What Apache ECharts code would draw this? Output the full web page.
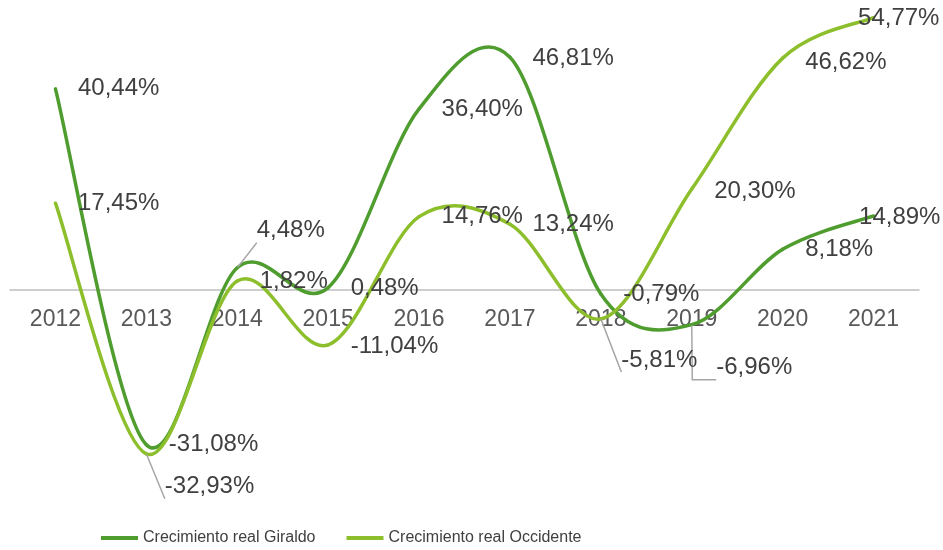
<!DOCTYPE html>
<html>
<head>
<meta charset="utf-8">
<script src="https://cdn.jsdelivr.net/npm/echarts@6/dist/echarts.min.js"></script>
<style>
  html, body { margin: 0; padding: 0; background: #fff; }
  #chart { width: 943px; height: 550px; }
</style>
</head>
<body>
<div id="chart"></div>
<script>
// datos
var years = ['2012', '2013', '2014', '2015', '2016', '2017', '2018', '2019', '2020', '2021'];
var giraldo = [40.44, -31.08, 4.48, 0.48, 36.40, 46.81, -0.79, -6.96, 8.18, 14.89];
var occidente = [17.45, -32.93, 1.82, -11.04, 14.76, 13.24, -5.81, 20.30, 46.62, 54.77];

// desplazamiento de etiquetas (px) y cuales llevan linea guia
var giraldoOffsets = [[0, 0], [0, 0], [-3, -37], [0, 1], [0, 0], [0, 1], [0, 0], [2, 43], [0, 0], [-37, 1]];
var giraldoLeaders = [2, 7];
var occidenteOffsets = [[0, 0], [-4, 33], [0, 0], [0, 1], [0, 0], [0, 0], [-2, 41], [0, 2], [0, 4], [-38, 1]];
var occidenteLeaders = [1, 6];

var GRID_H = 490;
var Y_MIN = -40.2, Y_MAX = 58.3;

var chart = echarts.init(document.getElementById('chart'));

function fmt(v) {
    return v.toFixed(2).replace('.', ',') + '%';
}

function buildData(values, offsets, leaders, elbow) {
    return values.map(function (v, i) {
        var item = {
            value: v,
            label: { offset: offsets[i] }
        };
        if (leaders.indexOf(i) >= 0) {
            item.labelLine = {
                show: true,
                length2: i === elbow ? 24 : 0,
                lineStyle: { color: '#a6a6a6', width: 1.5 }
            };
        }
        return item;
    });
}

// curva suavizada tipo Excel (Catmull-Rom, tension 1/6)
function curveSeries(name, color, values) {
    var n = values.length;
    return {
        name: name,
        type: 'custom',
        data: values.map(function (v, i) { return [i, v]; }),
        encode: { x: 0, y: 1 },
        silent: true,
        z: 2,
        itemStyle: { color: color },
        renderItem: function (params, api) {
            var i = params.dataIndex;
            if (i >= n - 1) return null;
            function pt(k) {
                k = Math.max(0, Math.min(n - 1, k));
                return api.coord([api.value(0, k), api.value(1, k)]);
            }
            var p0 = pt(i - 1), p1 = pt(i), p2 = pt(i + 1), p3 = pt(i + 2);
            return {
                type: 'bezierCurve',
                shape: {
                    x1: p1[0], y1: p1[1],
                    cpx1: p1[0] + (p2[0] - p0[0]) / 6,
                    cpy1: p1[1] + (p2[1] - p0[1]) / 6,
                    cpx2: p2[0] - (p3[0] - p1[0]) / 6,
                    cpy2: p2[1] - (p3[1] - p1[1]) / 6,
                    x2: p2[0], y2: p2[1]
                },
                style: { stroke: color, lineWidth: 3.5, fill: null, lineCap: 'round' }
            };
        }
    };
}

function labelSeries(name, color, values, offsets, leaders, elbow) {
    return {
        name: name,
        type: 'line',
        data: buildData(values, offsets, leaders, elbow),
        symbol: 'circle',
        symbolSize: 1,
        z: 3,
        itemStyle: { color: color },
        lineStyle: { color: color, width: 0, opacity: 0 },
        label: {
            show: true,
            position: 'right',
            distance: 22,
            color: '#404040',
            fontSize: 24,
            fontFamily: 'Liberation Sans, Arial, sans-serif',
            formatter: function (p) { return fmt(p.value); }
        },
        labelLine: { show: false },
        emphasis: { disabled: true }
    };
}

var option = {
    animation: false,
    grid: { left: 10, right: 24, top: 0, height: GRID_H },
    legend: {
        left: 96,
        top: 525,
        icon: 'rect',
        itemWidth: 37,
        itemHeight: 4,
        itemGap: 31,
        textStyle: {
            color: '#404040',
            fontSize: 16,
            fontFamily: 'Liberation Sans, Arial, sans-serif'
        },
        data: ['Crecimiento real Giraldo', 'Crecimiento real Occidente']
    },
    xAxis: {
        type: 'category',
        data: years,
        boundaryGap: true,
        // eje horizontal a la altura del cero
        offset: -GRID_H * (0 - Y_MIN) / (Y_MAX - Y_MIN),
        axisLine: { onZero: false, lineStyle: { color: '#bfbfbf', width: 1.5 } },
        axisTick: { show: false },
        axisLabel: {
            color: '#595959',
            fontSize: 23,
            margin: 18,
            fontFamily: 'Liberation Sans, Arial, sans-serif'
        },
        splitLine: { show: false }
    },
    yAxis: {
        type: 'value',
        min: Y_MIN,
        max: Y_MAX,
        show: false,
        splitLine: { show: false }
    },
    series: [
        curveSeries('Crecimiento real Giraldo', '#4f9d2f', giraldo),
        curveSeries('Crecimiento real Occidente', '#8dbf2d', occidente),
        labelSeries('Crecimiento real Giraldo', '#4f9d2f', giraldo, giraldoOffsets, giraldoLeaders, 7),
        labelSeries('Crecimiento real Occidente', '#8dbf2d', occidente, occidenteOffsets, occidenteLeaders, -1)
    ]
};

chart.setOption(option);
</script>
</body>
</html>
